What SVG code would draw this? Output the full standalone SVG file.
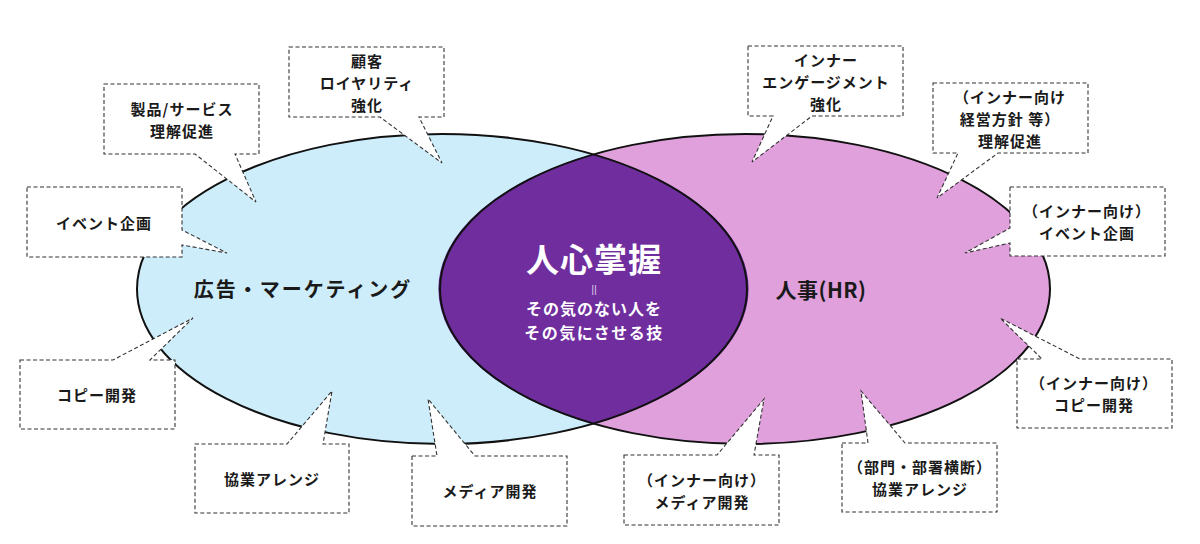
<svg xmlns="http://www.w3.org/2000/svg" width="1200" height="544" viewBox="0 0 1200 544">
<style>
.bubble{fill:#fff;stroke:#333;stroke-width:1.1;stroke-dasharray:4 2.5}
.lbl{font-family:"Noto Sans CJK JP","Noto Sans",sans-serif;font-weight:700;font-size:15px;letter-spacing:1px;fill:#1a1a1a;text-anchor:middle;dominant-baseline:central}
.big{font-family:"Noto Sans CJK JP","Noto Sans",sans-serif;font-weight:700;font-size:20px;fill:#1a1a1a;text-anchor:middle;dominant-baseline:central;letter-spacing:2px}
.core{font-family:"Noto Sans CJK JP","Noto Sans",sans-serif;font-weight:700;fill:#fff;text-anchor:middle;dominant-baseline:central}
.edge{fill:none;stroke:#111;stroke-width:2}
</style>
<rect width="1200" height="544" fill="#fff"/>
<g id="venn">
<ellipse id="marketing" cx="442" cy="289" rx="305" ry="155" fill="#CDEDFB"/>
<ellipse id="hr" cx="745" cy="289" rx="305" ry="155" fill="#E0A0DC"/>
<path id="overlap" d="M593.5 154 A305 155 0 0 1 593.5 424 A305 155 0 0 1 593.5 154 Z" fill="#6F2D9E"/>
<ellipse class="edge" cx="442" cy="289" rx="305" ry="155"/>
<ellipse class="edge" cx="745" cy="289" rx="305" ry="155"/>
<text class="big" x="303" y="288">広告・マーケティング</text>
<text class="big" x="821" y="289" style="font-size:21px;letter-spacing:0.5px">人事(HR)</text>
<text class="core" x="594" y="258" style="font-size:33px;letter-spacing:1px">人心掌握</text>
<text class="core" x="594" y="289" style="font-family:'Liberation Sans',sans-serif;font-size:11px;font-weight:400;fill:#d8c3ea">||</text>
<text class="core" x="594" y="308" style="font-size:16px;letter-spacing:1px">その気のない人を</text>
<text class="core" x="594" y="331.5" style="font-size:16px;letter-spacing:1.5px">その気にさせる技</text>
</g>
<g id="n-product">
<path class="bubble" d="M104 84 H259 V154 H235 L256 202 L195 154 H104 Z"/>
<text class="lbl" x="182" y="108">製品/サービス</text>
<text class="lbl" x="182" y="130">理解促進</text>
</g>
<g id="n-loyalty">
<path class="bubble" d="M289 47 H444 V117 H419 L442 163 L380 117 H289 Z"/>
<text class="lbl" x="367" y="60">顧客</text>
<text class="lbl" x="367" y="82">ロイヤリティ</text>
<text class="lbl" x="367" y="104">強化</text>
</g>
<g id="n-event">
<path class="bubble" d="M27 187 H182 V230 L227 253 L182 245 V257 H27 Z"/>
<text class="lbl" x="104" y="222">イベント企画</text>
</g>
<g id="n-copy">
<path class="bubble" d="M20 360 H113 L193 318 L150 360 H175 V429 H20 Z"/>
<text class="lbl" x="97" y="394">コピー開発</text>
</g>
<g id="n-collab">
<path class="bubble" d="M195 444 H287 L332 391 L323 444 H349 V513 H195 Z"/>
<text class="lbl" x="272" y="478">協業アレンジ</text>
</g>
<g id="n-media">
<path class="bubble" d="M412 456 H437 L428 399 L475 456 H567 V526 H412 Z"/>
<text class="lbl" x="490" y="490">メディア開発</text>
</g>
<g id="n-engagement">
<path class="bubble" d="M748 46 H903 V116 H812 L752 162 L773 116 H748 Z"/>
<text class="lbl" x="826" y="59">インナー</text>
<text class="lbl" x="826" y="81">エンゲージメント</text>
<text class="lbl" x="826" y="103">強化</text>
</g>
<g id="n-policy">
<path class="bubble" d="M933 83 H1088 V153 H998 L937 198 L958 153 H933 Z"/>
<text class="lbl" x="1010" y="96">（インナー向け</text>
<text class="lbl" x="1010" y="118">経営方針 等）</text>
<text class="lbl" x="1010" y="140">理解促進</text>
</g>
<g id="n-inner-event">
<path class="bubble" d="M1010 187 H1165 V256 H1010 V243 L965 253 L1010 228 Z"/>
<text class="lbl" x="1087" y="210.5">（インナー向け）</text>
<text class="lbl" x="1087" y="232.5">イベント企画</text>
</g>
<g id="n-inner-copy">
<path class="bubble" d="M1017 359 H1042 L1000 318 L1080 359 H1172 V428 H1017 Z"/>
<text class="lbl" x="1094" y="382.5">（インナー向け）</text>
<text class="lbl" x="1094" y="404.5">コピー開発</text>
</g>
<g id="n-inner-media">
<path class="bubble" d="M624 455 H717 L764 399 L754 455 H779 V525 H624 Z"/>
<text class="lbl" x="702" y="479">（インナー向け）</text>
<text class="lbl" x="702" y="501">メディア開発</text>
</g>
<g id="n-cross-collab">
<path class="bubble" d="M842 443 H868 L861 391 L905 443 H997 V512 H842 Z"/>
<text class="lbl" x="920" y="466.5">（部門・部署横断）</text>
<text class="lbl" x="920" y="488.5">協業アレンジ</text>
</g>
</svg>
